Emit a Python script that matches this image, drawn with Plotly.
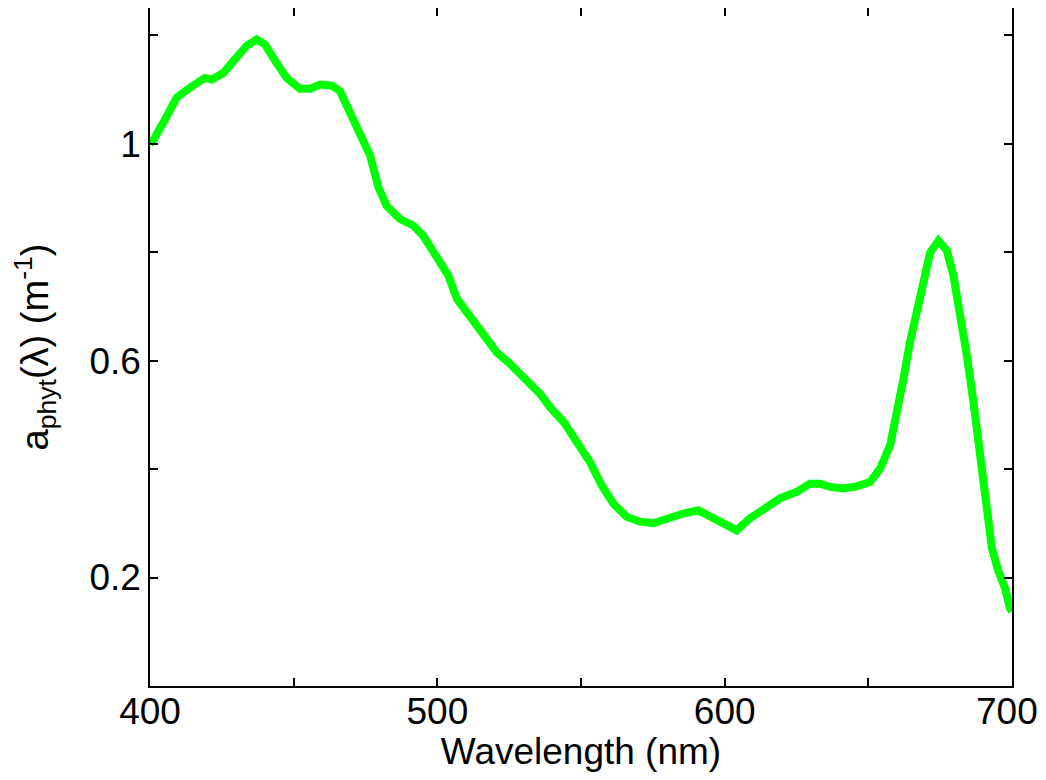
import plotly.graph_objects as go

wavelength = [400, 401, 405.2, 409.3, 413.9, 419.1, 421.5, 425.5, 429, 433.6, 437.1, 440, 444,
              447.6, 452.2, 455.7, 459.2, 463.2, 466.1, 470.8, 476.6, 479.5, 482.4, 487, 491.6,
              495.1, 499.8, 503.8, 506.8, 511.4, 516, 520.7, 525.3, 531.1, 535.7, 539.2, 544.4,
              548.5, 553.1, 557.2, 561.3, 565.9, 570.6, 575.2, 579.8, 585.6, 590.8, 594.9, 599.5,
              604.2, 608.8, 614.6, 619.3, 625.1, 629.7, 633.2, 636.7, 641.3, 645.9, 650.6, 654.1,
              657.6, 659.9, 662.2, 664.5, 666.9, 669.2, 671.5, 674.4, 677.3, 679.6, 681.9, 684.3,
              686.6, 688.9, 691.2, 693, 695.3, 697.6, 699.3, 700]
a_phyt = [1.0, 1.005, 1.044, 1.085, 1.103, 1.121, 1.118, 1.13, 1.152, 1.18, 1.192, 1.183, 1.149,
          1.121, 1.101, 1.101, 1.109, 1.107, 1.097, 1.045, 0.978, 0.919, 0.885, 0.861, 0.849,
          0.83, 0.793, 0.757, 0.714, 0.68, 0.646, 0.615, 0.594, 0.566, 0.539, 0.514, 0.484,
          0.45, 0.413, 0.37, 0.336, 0.312, 0.303, 0.3, 0.309, 0.318, 0.324, 0.312, 0.297,
          0.287, 0.309, 0.33, 0.346, 0.358, 0.373, 0.373, 0.367, 0.364, 0.368, 0.376, 0.401,
          0.444, 0.499, 0.566, 0.634, 0.689, 0.75, 0.799, 0.821, 0.803, 0.757, 0.689, 0.609,
          0.523, 0.425, 0.333, 0.254, 0.211, 0.18, 0.143, 0.138]

x_tickvals = [400, 450, 500, 550, 600, 650, 700]
x_ticktext = ["400", "", "500", "", "600", "", "700\u00a0"]
y_tickvals = [0.2, 0.4, 0.6, 0.8, 1.0, 1.2]
y_ticktext = ["0.2", "", "0.6", "", "1", ""]

FONT = "Liberation Sans, Arial, Helvetica, sans-serif"

fig = go.Figure()
fig.add_trace(go.Scatter(x=wavelength, y=a_phyt, mode="lines",
                         line=dict(color="#00FF00", width=8), showlegend=False))

axis_common = dict(showline=True, linecolor="black", linewidth=1.5, mirror="ticks",
                   ticks="inside", ticklen=8, tickwidth=1.5, tickcolor="black",
                   showgrid=False, zeroline=False, ticklabeloverflow="allow",
                   tickfont=dict(family=FONT, size=37, color="black"))

fig.update_xaxes(range=[400, 700], tickvals=x_tickvals, ticktext=x_ticktext,
                 ticklabelstandoff=-8,
                 title=dict(text="Wavelength (nm)", font=dict(family=FONT, size=37, color="black"),
                            standoff=20),
                 automargin=False, **axis_common)
fig.update_yaxes(range=[0, 1.25], tickvals=y_tickvals, ticktext=y_ticktext,
                 title=dict(text="a<sub>phyt</sub>(λ) (m<sup>-1</sup>)",
                            font=dict(family=FONT, size=38, color="black"), standoff=38),
                 automargin=False, **axis_common)

fig.update_layout(width=1030, height=764, margin=dict(l=142, r=26, t=0, b=86),
                  paper_bgcolor="white", plot_bgcolor="white",
                  font=dict(family=FONT, color="black"))

fig.write_html("out.html")
